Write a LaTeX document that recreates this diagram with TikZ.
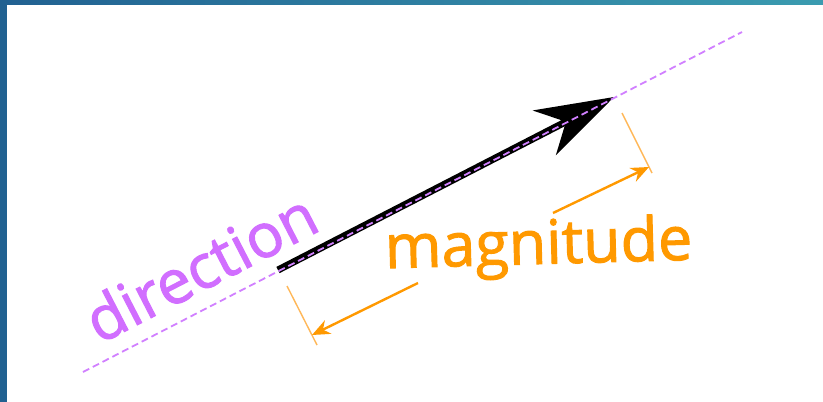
\documentclass[tikz,border=0pt]{standalone}
\usepackage{fontspec}
\setsansfont{Open Sans}
\newfontfamily\lblfont{Open Sans}[FakeBold=1.6]
\usetikzlibrary{arrows.meta, positioning, calc}
\definecolor{LabelPurple}{rgb}{0.82, 0.43, 1}
\definecolor{GuidePurple}{rgb}{0.82, 0.5, 1}
\definecolor{DimOrange}{rgb}{1, 0.6, 0}
\definecolor{ExtOrange}{rgb}{1, 0.72, 0.35}
\definecolor{FrameBlue}{rgb}{0.13, 0.38, 0.57}
\definecolor{FrameTeal}{rgb}{0.23, 0.61, 0.69}
\newcommand{\lblsize}{\fontsize{61}{70}\selectfont}

\begin{document}
\begin{tikzpicture}[
    x=1pt, y=-1pt,
    font=\sffamily,
    guide/.style={draw=GuidePurple, line width=1.8pt, dash pattern=on 7pt off 4pt},
    vec/.style={draw=black, line width=7pt,
        -{Stealth[length=78pt, width=50pt, inset=24pt]}},
    extline/.style={draw=ExtOrange, line width=1.4pt},
    dimarrow/.style={draw=DimOrange, line width=2.4pt,
        -{Stealth[length=18pt, width=15pt]}},
    lbl/.style={inner sep=0pt, anchor=base, font=\lblfont\lblsize}
]
\useasboundingbox (0,0) rectangle (823,402);

% frame
\fill[white] (0,0) rectangle (823,402);
\shade[left color=FrameBlue, right color=FrameTeal] (0,0) rectangle (823,4);
\fill[FrameBlue] (0,0) rectangle (7,402);

\coordinate (guideA) at (83,372);
\coordinate (guideB) at (742,32);
\coordinate (tail) at (278,270);
\coordinate (tip) at (614,97);

\coordinate (extLa) at (287,286);
\coordinate (extLb) at (317,345);
\coordinate (extRa) at (622,113);
\coordinate (extRb) at (652,173);
\coordinate (dimLa) at (418,283);
\coordinate (dimLb) at (312,335);
\coordinate (dimRa) at (553,213);
\coordinate (dimRb) at (649,167);

\draw[vec] (tail) -- (tip);
\draw[guide] (guideA) -- (guideB);

\draw[extline] (extLa) -- (extLb);
\draw[extline] (extRa) -- (extRb);
\draw[dimarrow] (dimLa) -- (dimLb);
\draw[dimarrow] (dimRa) -- (dimRb);

\node[lbl, text=LabelPurple, rotate=27.3] (dirlabel) at (211,287) {direction};
\node[lbl, text=DimOrange, rotate=1.6] (maglabel) at (539,264) {magnitude};

\end{tikzpicture}
\end{document}
